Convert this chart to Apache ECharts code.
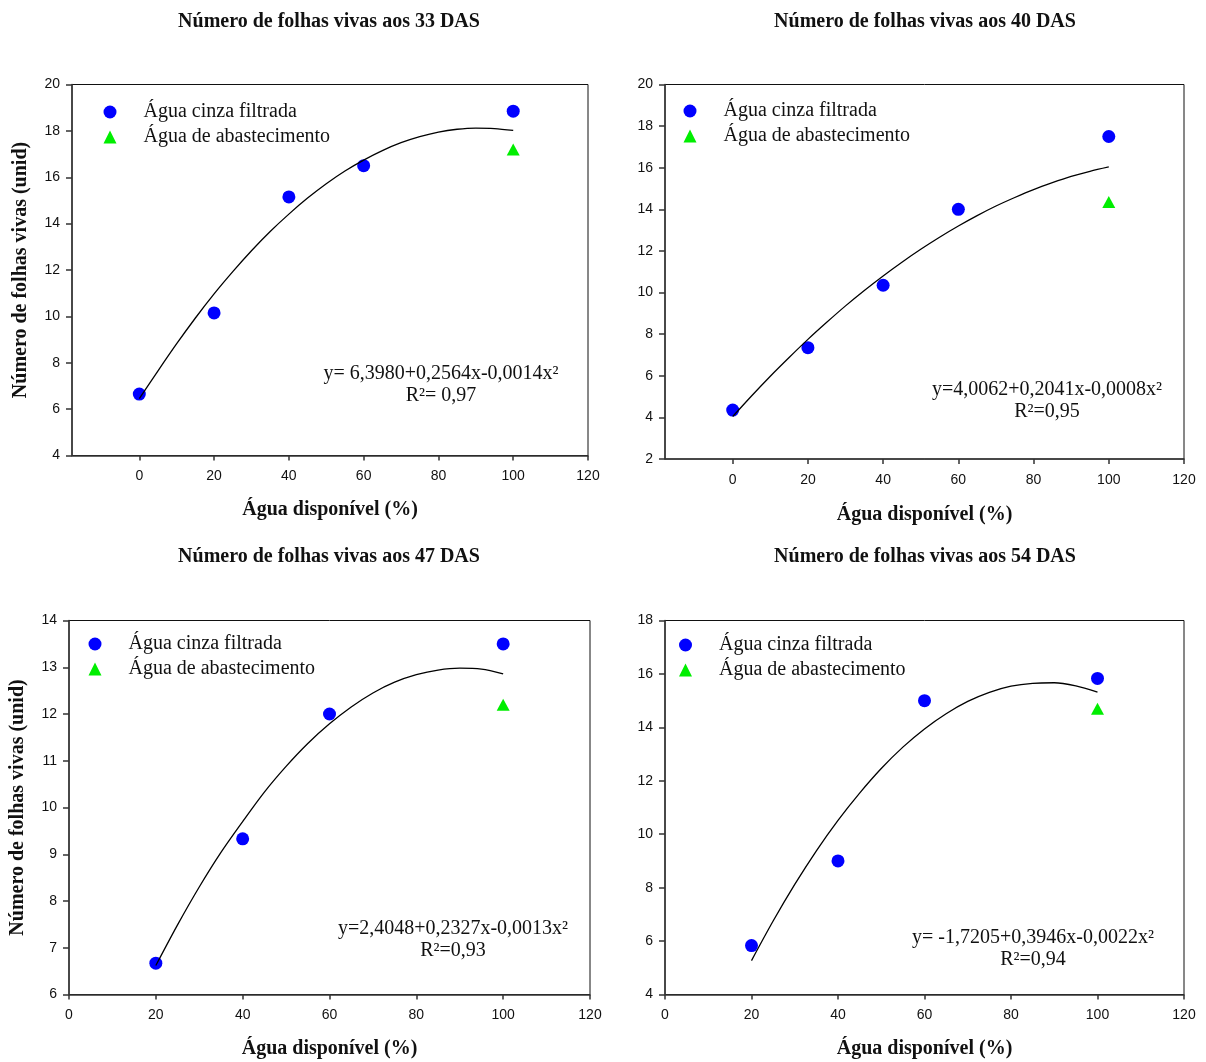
<!DOCTYPE html>
<html>
<head>
<meta charset="utf-8">
<script src="https://cdn.jsdelivr.net/npm/echarts@6/dist/echarts.min.js"></script>
<style>
html,body{margin:0;padding:0;background:#fff}
#c{width:1206px;height:1062px}
</style>
</head>
<body>
<div id="c"></div>
<script>
// ---------- DATA ----------
const panelTitles = [
  'Número de folhas vivas aos 33 DAS',
  'Número de folhas vivas aos 40 DAS',
  'Número de folhas vivas aos 47 DAS',
  'Número de folhas vivas aos 54 DAS'
];
const seriesNames = ['Água cinza filtrada', 'Água de abastecimento'];
const xAxisTitle = 'Água disponível (%)';
const yAxisTitle = 'Número de folhas vivas (unid)';
const xTickValues = [0, 20, 40, 60, 80, 100, 120];

// 33 DAS
const xCinza33 = [0, 20, 40, 60, 100];
const yCinza33 = [6.65, 10.15, 15.15, 16.5, 18.85];
const xAbast33 = [100];
const yAbast33 = [17.2];
const xFit33 = [0, 5, 10, 15, 20, 25, 30, 35, 40, 45, 50, 55, 60, 65, 70, 75, 80, 85, 90, 95, 100];
const yFit33 = [6.45, 7.65, 8.82, 9.93, 10.97, 11.93, 12.83, 13.66, 14.41, 15.1, 15.72, 16.27, 16.74, 17.15, 17.49, 17.75, 17.95, 18.07, 18.12, 18.1, 18.02];
const eq33 = ['y= 6,3980+0,2564x-0,0014x²', 'R²= 0,97'];

// 40 DAS
const xCinza40 = [0, 20, 40, 60, 100];
const yCinza40 = [4.35, 7.35, 10.35, 14.0, 17.5];
const xAbast40 = [100];
const yAbast40 = [14.35];
const xFit40 = [0, 5, 10, 15, 20, 25, 30, 35, 40, 45, 50, 55, 60, 65, 70, 75, 80, 85, 90, 95, 100];
const yFit40 = [4.04, 5.03, 5.98, 6.88, 7.75, 8.57, 9.36, 10.1, 10.8, 11.46, 12.08, 12.66, 13.2, 13.7, 14.16, 14.57, 14.95, 15.28, 15.58, 15.83, 16.04];
const eq40 = ['y=4,0062+0,2041x-0,0008x²', 'R²=0,95'];

// 47 DAS
const xCinza47 = [20, 40, 60, 100];
const yCinza47 = [6.67, 9.33, 12.0, 13.5];
const xAbast47 = [100];
const yAbast47 = [12.2];
const xFit47 = [20, 25, 30, 35, 40, 45, 50, 55, 60, 65, 70, 75, 80, 85, 90, 95, 100];
const yFit47 = [6.62, 7.49, 8.3, 9.04, 9.7, 10.33, 10.88, 11.37, 11.79, 12.15, 12.45, 12.68, 12.84, 12.94, 12.98, 12.96, 12.86];
const eq47 = ['y=2,4048+0,2327x-0,0013x²', 'R²=0,93'];

// 54 DAS
const xCinza54 = [20, 40, 60, 100];
const yCinza54 = [5.83, 9.0, 15.0, 15.83];
const xAbast54 = [100];
const yAbast54 = [14.7];
const xFit54 = [20, 25, 30, 35, 40, 45, 50, 55, 60, 65, 70, 75, 80, 85, 90, 95, 100];
const yFit54 = [5.27, 6.75, 8.12, 9.38, 10.52, 11.54, 12.46, 13.26, 13.94, 14.51, 14.97, 15.31, 15.54, 15.65, 15.67, 15.55, 15.32];
const eq54 = ['y= -1,7205+0,3946x-0,0022x²', 'R²=0,94'];

// ---------- LAYOUT / STYLE ----------
const SERIF = '"Liberation Serif", "Times New Roman", serif';
const SANS = '"Liberation Sans", Arial, sans-serif';

const panels = [
  { cx: xCinza33, cy: yCinza33, ax: xAbast33, ay: yAbast33, fx: xFit33, fy: yFit33, eq: eq33,
    grid: { left: 72, top: 84.5, width: 516, height: 371 },
    x: { min: -18, max: 120, custom: true }, y: { min: 4, max: 20, interval: 2 }, yName: true,
    xGap: 44, title: [329, 12], legend: [103.5, 101], eqPos: [441, 374] },
  { cx: xCinza40, cy: yCinza40, ax: xAbast40, ay: yAbast40, fx: xFit40, fy: yFit40, eq: eq40,
    grid: { left: 665, top: 84.5, width: 519, height: 374.5 },
    x: { min: -18, max: 120, custom: true }, y: { min: 2, max: 20, interval: 2 }, yName: false,
    xGap: 46, title: [925, 12], legend: [683.5, 100], eqPos: [1047, 390] },
  { cx: xCinza47, cy: yCinza47, ax: xAbast47, ay: yAbast47, fx: xFit47, fy: yFit47, eq: eq47,
    grid: { left: 69, top: 620.5, width: 521, height: 374 },
    x: { min: 0, max: 120, interval: 20 }, y: { min: 6, max: 14, interval: 1 }, yName: true,
    xGap: 44, title: [329, 547], legend: [88.5, 633], eqPos: [453, 929] },
  { cx: xCinza54, cy: yCinza54, ax: xAbast54, ay: yAbast54, fx: xFit54, fy: yFit54, eq: eq54,
    grid: { left: 665, top: 620.5, width: 519, height: 374 },
    x: { min: 0, max: 120, interval: 20 }, y: { min: 4, max: 18, interval: 2 }, yName: false,
    xGap: 44, title: [925, 547], legend: [679, 634], eqPos: [1033, 938] }
];

const zip = (xs, ys) => xs.map((x, i) => [x, ys[i]]);
const axisLineStyle = { color: '#333', width: 1.5 };

const option = {
  backgroundColor: '#fff',
  animation: false,
  title: panels.map((p, i) => ({
    text: panelTitles[i], left: p.title[0], top: p.title[1], textAlign: 'center', padding: 0,
    textStyle: { fontFamily: SERIF, fontWeight: 'bold', fontSize: 20, color: '#111' }
  })),
  grid: panels.map(p => Object.assign({ show: true, borderColor: '#111', borderWidth: 1, backgroundColor: 'transparent' }, p.grid)),
  legend: panels.map(p => ({
    data: seriesNames, orient: 'vertical', left: p.legend[0], top: p.legend[1], padding: 0,
    itemWidth: 13, itemHeight: 13, itemGap: 3, selectedMode: false,
    textStyle: { fontFamily: SERIF, fontSize: 20, color: '#111', lineHeight: 22, padding: [0, 0, 0, 22] }
  })),
  xAxis: panels.map((p, i) => {
    const ax = {
      gridIndex: i, type: 'value', min: p.x.min, max: p.x.max,
      axisLine: { show: true, onZero: false, lineStyle: axisLineStyle },
      axisTick: { show: true, inside: false, length: 5, lineStyle: axisLineStyle },
      axisLabel: { color: '#111', fontFamily: SANS, fontSize: 14, margin: 14 },
      splitLine: { show: false },
      name: xAxisTitle, nameLocation: 'middle', nameGap: p.xGap,
      nameTextStyle: { fontFamily: SERIF, fontWeight: 'bold', fontSize: 20, color: '#111' }
    };
    if (p.x.custom) {
      ax.axisLabel.customValues = xTickValues;
      ax.axisTick.customValues = xTickValues;
    } else {
      ax.interval = p.x.interval;
    }
    return ax;
  }),
  yAxis: panels.map((p, i) => ({
    gridIndex: i, type: 'value', min: p.y.min, max: p.y.max, interval: p.y.interval,
    axisLine: { show: true, onZero: false, lineStyle: axisLineStyle },
    axisTick: { show: true, inside: false, length: 6, lineStyle: axisLineStyle },
    axisLabel: { color: '#111', fontFamily: SANS, fontSize: 14, margin: 12 },
    splitLine: { show: false },
    name: p.yName ? yAxisTitle : '', nameLocation: 'middle', nameGap: 41, nameRotate: 90,
    nameTextStyle: { fontFamily: SERIF, fontWeight: 'bold', fontSize: 20, color: '#111' }
  })),
  series: panels.flatMap((p, i) => [
    { type: 'scatter', name: seriesNames[0], xAxisIndex: i, yAxisIndex: i,
      data: zip(p.cx, p.cy), symbol: 'circle', symbolSize: 13,
      itemStyle: { color: '#0000ff', opacity: 1 }, z: 2 },
    { type: 'scatter', name: seriesNames[1], xAxisIndex: i, yAxisIndex: i,
      data: zip(p.ax, p.ay), symbol: 'triangle', symbolSize: [13, 12],
      itemStyle: { color: '#00ee00', opacity: 1 }, z: 2 },
    { type: 'line', name: 'Ajuste', xAxisIndex: i, yAxisIndex: i,
      data: zip(p.fx, p.fy), showSymbol: false, symbol: 'none', smooth: 0.3,
      lineStyle: { color: '#000', width: 1.3 }, z: 3, silent: true }
  ]),
  graphic: panels.flatMap(p => [
    { type: 'text', x: p.eqPos[0], y: p.eqPos[1], silent: true,
      style: { text: p.eq[0], textAlign: 'center', textVerticalAlign: 'middle', font: '20px ' + SERIF, fill: '#111' } },
    { type: 'text', x: p.eqPos[0], y: p.eqPos[1] + 22, silent: true,
      style: { text: p.eq[1], textAlign: 'center', textVerticalAlign: 'middle', font: '20px ' + SERIF, fill: '#111' } }
  ])
};

const chart = echarts.init(document.getElementById('c'), null, { renderer: 'canvas' });
chart.setOption(option);
</script>
</body>
</html>
